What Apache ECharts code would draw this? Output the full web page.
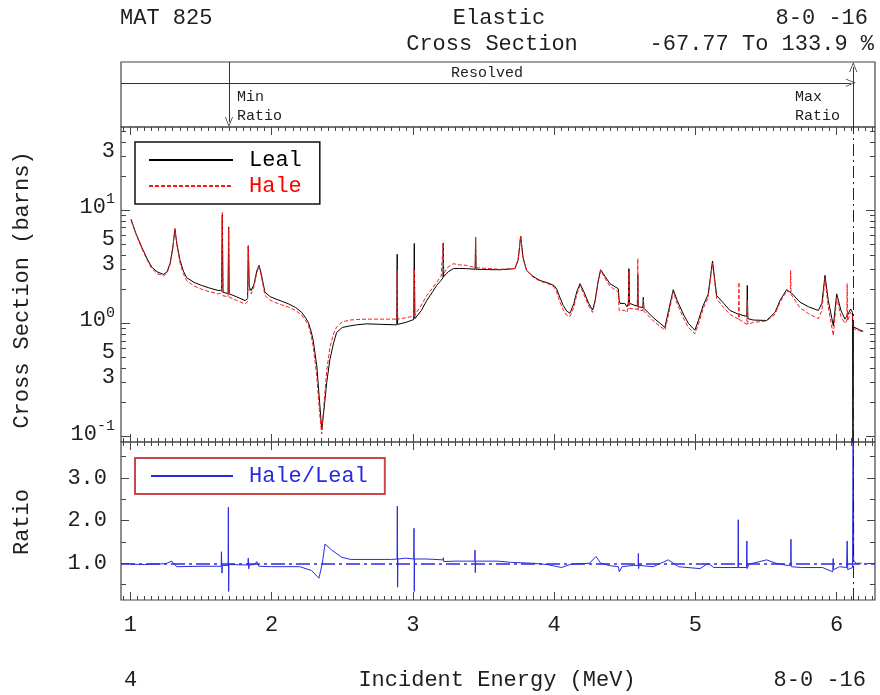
<!DOCTYPE html>
<html><head><meta charset="utf-8">
<script src="https://cdn.jsdelivr.net/npm/echarts@6/dist/echarts.min.js"></script>
<style>html,body{margin:0;padding:0;background:#fff}#c{width:880px;height:695px}</style>
</head><body><div id="c"></div>
<script>
// ---- data (energy MeV, cross section barns) ----
const lealCurve = [
[1.005,8.3],[1.04,6.2],[1.08,4.72],[1.12,3.7],[1.151,3.14],[1.19,2.85],[1.234,2.70],[1.26,2.85],[1.281,3.37],[1.30,4.6],[1.316,6.74],[1.33,5.0],[1.352,3.6],[1.375,2.9],[1.399,2.53],[1.45,2.30],[1.505,2.16],[1.56,2.05],[1.623,1.95],[1.646,1.96],[1.651,9.03],[1.656,1.88],[1.692,1.83],[1.696,7.1],[1.700,1.82],[1.75,1.72],[1.812,1.59],[1.83,1.65],[1.835,4.82],[1.842,2.1],[1.855,1.95],[1.875,2.2],[1.895,2.9],[1.911,3.25],[1.925,2.8],[1.953,1.88],[1.99,1.72],[2.024,1.65],[2.07,1.57],[2.118,1.49],[2.17,1.38],[2.213,1.25],[2.24,1.12],[2.26,1.02],[2.28,0.85],[2.295,0.70],[2.32,0.42],[2.34,0.2],[2.355,0.115],[2.37,0.17],[2.39,0.3],[2.413,0.483],[2.44,0.68],[2.46,0.83],[2.50,0.92],[2.555,0.95],[2.6,0.97],[2.673,0.99],[2.78,0.98],[2.886,0.97],[2.889,4.07],[2.892,0.98],[2.95,1.02],[3.006,1.08],[3.010,5.07],[3.014,1.10],[3.06,1.3],[3.098,1.59],[3.14,1.9],[3.168,2.16],[3.2,2.4],[3.213,2.52],[3.215,5.12],[3.218,2.58],[3.25,2.85],[3.286,3.04],[3.33,3.05],[3.378,3.04],[3.441,3.0],[3.444,5.72],[3.447,3.0],[3.53,2.98],[3.617,2.97],[3.722,3.04],[3.745,3.6],[3.763,5.89],[3.78,3.8],[3.805,2.93],[3.85,2.6],[3.90,2.39],[3.97,2.24],[4.0,2.15],[4.017,2.02],[4.04,1.7],[4.064,1.44],[4.09,1.28],[4.112,1.23],[4.14,1.5],[4.16,1.9],[4.183,2.24],[4.21,1.9],[4.245,1.5],[4.272,1.31],[4.29,1.6],[4.31,2.3],[4.329,2.97],[4.36,2.6],[4.395,2.24],[4.454,2.02],[4.46,1.6],[4.466,1.50],[4.50,1.50],[4.515,1.4],[4.525,1.5],[4.529,3.04],[4.534,1.5],[4.572,1.44],[4.589,1.42],[4.592,2.7],[4.595,1.4],[4.628,1.38],[4.631,1.70],[4.635,1.36],[4.702,1.12],[4.75,1.0],[4.784,0.92],[4.81,1.3],[4.843,1.98],[4.87,1.6],[4.914,1.21],[4.95,1.0],[4.996,0.87],[5.02,1.05],[5.055,1.44],[5.09,1.8],[5.121,3.55],[5.15,1.76],[5.20,1.5],[5.244,1.30],[5.30,1.21],[5.364,1.15],[5.367,2.16],[5.371,1.10],[5.409,1.07],[5.504,1.06],[5.563,1.25],[5.60,1.6],[5.645,1.98],[5.68,1.85],[5.74,1.54],[5.80,1.40],[5.87,1.30],[5.895,1.5],[5.917,2.65],[5.94,1.6],[5.976,0.95],[6.0,1.82],[6.03,1.3],[6.058,1.09],[6.08,1.2],[6.098,1.34],[6.112,1.25],[6.115,0.05],[6.118,0.93],[6.129,0.92],[6.16,0.88],[6.188,0.85]
];
const haleCurve = [
[1.005,8.1],[1.04,6.1],[1.08,4.6],[1.12,3.6],[1.151,3.05],[1.19,2.75],[1.234,2.62],[1.26,2.78],[1.281,3.3],[1.30,4.6],[1.316,6.9],[1.33,4.9],[1.352,3.4],[1.375,2.75],[1.399,2.38],[1.45,2.14],[1.505,2.0],[1.56,1.9],[1.623,1.82],[1.646,1.85],[1.651,9.5],[1.656,1.75],[1.692,1.72],[1.696,7.0],[1.700,1.70],[1.75,1.6],[1.812,1.48],[1.83,1.55],[1.835,4.9],[1.842,1.95],[1.855,1.82],[1.875,2.1],[1.895,2.8],[1.911,3.2],[1.925,2.7],[1.953,1.76],[1.99,1.6],[2.024,1.53],[2.07,1.46],[2.118,1.39],[2.17,1.3],[2.213,1.18],[2.24,1.06],[2.26,0.96],[2.28,0.78],[2.295,0.62],[2.32,0.34],[2.34,0.16],[2.355,0.106],[2.37,0.19],[2.39,0.38],[2.413,0.62],[2.44,0.82],[2.46,0.93],[2.50,1.03],[2.555,1.07],[2.6,1.08],[2.673,1.09],[2.78,1.09],[2.886,1.09],[2.889,2.98],[2.892,1.09],[2.95,1.12],[3.006,1.16],[3.010,2.98],[3.014,1.18],[3.06,1.45],[3.098,1.76],[3.14,2.05],[3.168,2.31],[3.2,2.6],[3.213,2.7],[3.215,5.12],[3.218,2.75],[3.25,3.15],[3.286,3.36],[3.33,3.28],[3.378,3.25],[3.441,3.1],[3.444,5.72],[3.447,3.1],[3.53,3.05],[3.617,3.0],[3.722,3.05],[3.745,3.7],[3.763,5.9],[3.78,3.7],[3.805,2.93],[3.85,2.55],[3.90,2.36],[3.97,2.2],[4.0,2.08],[4.017,1.9],[4.04,1.55],[4.064,1.32],[4.09,1.17],[4.112,1.15],[4.14,1.4],[4.16,1.8],[4.183,2.15],[4.21,1.8],[4.245,1.42],[4.272,1.25],[4.29,1.55],[4.31,2.3],[4.329,2.95],[4.36,2.5],[4.395,2.12],[4.454,1.9],[4.46,1.3],[4.466,1.25],[4.50,1.3],[4.515,1.25],[4.525,1.4],[4.529,2.9],[4.534,1.35],[4.572,1.35],[4.589,1.32],[4.592,3.73],[4.595,1.3],[4.628,1.3],[4.631,1.62],[4.635,1.28],[4.702,1.05],[4.75,0.94],[4.784,0.87],[4.81,1.2],[4.843,1.9],[4.87,1.5],[4.914,1.12],[4.95,0.92],[4.996,0.81],[5.02,0.97],[5.055,1.35],[5.09,1.7],[5.121,3.4],[5.15,1.65],[5.20,1.38],[5.244,1.2],[5.305,1.09],[5.308,2.31],[5.311,1.08],[5.364,0.98],[5.367,1.6],[5.371,0.98],[5.409,1.02],[5.504,1.05],[5.563,1.2],[5.60,1.55],[5.645,1.92],[5.671,1.9],[5.674,2.93],[5.677,1.8],[5.74,1.37],[5.80,1.22],[5.87,1.10],[5.895,1.3],[5.917,2.5],[5.94,1.4],[5.976,0.78],[6.0,1.7],[6.03,1.15],[6.058,1.0],[6.071,1.05],[6.074,2.24],[6.077,1.05],[6.098,1.25],[6.112,1.2],[6.118,0.9],[6.129,0.88],[6.16,0.86],[6.188,0.84]
];
const ratioCurve = [
[1.0,0.98],[1.1,0.97],[1.25,0.99],[1.293,1.05],[1.31,0.98],[1.33,0.92],[1.5,0.93],[1.643,0.93],[1.645,1.27],[1.649,0.77],[1.652,0.95],[1.692,0.95],[1.694,2.31],[1.696,0.34],[1.698,0.97],[1.832,0.96],[1.835,1.12],[1.838,0.87],[1.842,0.96],[1.88,0.97],[1.895,1.04],[1.91,0.93],[2.0,0.92],[2.2,0.92],[2.283,0.83],[2.335,0.65],[2.359,1.0],[2.378,1.45],[2.425,1.31],[2.496,1.14],[2.56,1.09],[2.85,1.09],[2.888,1.1],[2.890,2.34],[2.892,0.44],[2.894,1.1],[2.95,1.12],[3.006,1.1],[3.008,1.82],[3.010,0.34],[3.012,1.1],[3.1,1.1],[3.214,1.08],[3.216,1.13],[3.218,1.04],[3.3,1.05],[3.438,1.05],[3.44,1.31],[3.442,0.78],[3.444,1.05],[3.6,1.05],[3.7,1.02],[3.85,1.0],[3.95,0.97],[4.053,0.9],[4.12,0.98],[4.25,1.0],[4.296,1.16],[4.33,1.0],[4.40,0.94],[4.455,0.92],[4.461,0.80],[4.48,0.92],[4.56,0.95],[4.594,0.95],[4.596,1.23],[4.598,0.875],[4.60,0.95],[4.7,0.92],[4.808,1.08],[4.88,0.92],[5.032,0.875],[5.09,1.0],[5.13,0.9],[5.25,0.9],[5.301,0.9],[5.303,2.02],[5.305,0.9],[5.362,0.9],[5.364,1.52],[5.366,0.875],[5.38,0.98],[5.504,1.08],[5.57,1.0],[5.65,0.95],[5.674,0.95],[5.676,1.56],[5.678,0.92],[5.75,0.9],[5.9,0.9],[5.972,0.8],[5.975,1.11],[5.978,0.85],[6.02,0.92],[6.07,0.9],[6.074,1.52],[6.078,0.85],[6.112,0.9],[6.117,6.0],[6.12,1.05],[6.14,1.0],[6.176,1.0]
];
const xTickLabels = [1, 2, 3, 4, 5, 6];
const xsTickLabels = [0.1, 0.3, 0.5, 1, 3, 5, 10, 30];
const ratioTickLabels = [1, 2, 3];
const minRatioE = 1.698;
const maxRatioE = 6.117;
const resolvedEndE = 6.10;

// ---- layout / style ----
const FONT = "'Liberation Mono','DejaVu Sans Mono',monospace";
const AX = '#444';
const TXT = '#1e1e1e';
const X0 = 0.934, X1 = 6.271;
const Y0 = 0.0898, Y1 = 54;
const R0 = 0.14, R1 = 3.84;

const xMinor = [];
for (let i = 19; i <= 125; i++) { if (i % 20 !== 0) xMinor.push(+(i * 0.05).toFixed(2)); }
const logMajor = [0.1, 1, 10];
const logMinor = [];
[0.1, 1, 10].forEach(d => { for (let k = 2; k <= 9; k++) { const v = +(k * d).toFixed(3); if (v < Y1) logMinor.push(v); } });
const rMinor = [0.5, 1.5, 2.5, 3.5];

function xAx(grid, pos, ticks, len, labels) {
  return {
    type: 'value', gridIndex: grid, position: pos, min: X0, max: X1,
    axisLine: { show: false, onZero: false }, splitLine: { show: false },
    axisTick: { show: true, inside: true, length: len, customValues: ticks, lineStyle: { color: AX, width: 1 } },
    axisLabel: labels ? { show: true, customValues: xTickLabels, margin: 14, fontFamily: FONT, fontSize: 22, color: TXT, formatter: v => String(v) } : { show: false }
  };
}
function logAx(pos, ticks, len, labels) {
  return {
    type: 'log', logBase: 10, gridIndex: 1, position: pos, min: Y0, max: Y1,
    axisLine: { show: false, onZero: false }, splitLine: { show: false },
    axisTick: { show: true, inside: true, length: len, customValues: ticks, lineStyle: { color: AX, width: 1 } },
    axisLabel: labels ? {
      show: true, customValues: xsTickLabels, margin: 6, fontFamily: FONT, fontSize: 22, color: TXT,
      padding: [0, 0, 10, 0],
      formatter: v => {
        const l = Math.round(Math.log10(v));
        if (Math.abs(v / Math.pow(10, l) - 1) < 1e-6) return '{m|10}{s|' + l + '}';
        return String(Math.round(v / Math.pow(10, Math.floor(Math.log10(v) + 1e-9))));
      },
      rich: {
        m: { fontFamily: FONT, fontSize: 22, color: TXT, verticalAlign: 'bottom' },
        s: { fontFamily: FONT, fontSize: 15, color: TXT, verticalAlign: 'bottom', padding: [0, 0, 11, 0] }
      }
    } : { show: false }
  };
}
function rAx(pos, ticks, len, labels) {
  return {
    type: 'value', gridIndex: 2, position: pos, min: R0, max: R1,
    axisLine: { show: false, onZero: false }, splitLine: { show: false },
    axisTick: { show: true, inside: true, length: len, customValues: ticks, lineStyle: { color: AX, width: 1 } },
    axisLabel: labels ? { show: true, customValues: ratioTickLabels, margin: 14, padding: [0, 0, 10, 0], fontFamily: FONT, fontSize: 22, color: TXT, formatter: v => v.toFixed(1) } : { show: false }
  };
}

const ARROW = 'path://M0,10 L5,0 L10,10 L9,10 L5,2 L1,10 Z';

function txt(t, x, y, align, size, extra) {
  return Object.assign({
    type: 'text', x: x, y: y, z: 100, silent: true,
    style: { text: t, fontFamily: FONT, fontSize: size, fill: TXT, align: align, textAlign: align, verticalAlign: 'middle', textVerticalAlign: 'middle' }
  }, extra || {});
}

const chart = echarts.init(document.getElementById('c'), null, { renderer: 'canvas' });
chart.setOption({
  animation: false,
  backgroundColor: '#fff',
  grid: [
    { left: 121, right: 5, top: 62, height: 65, show: true, borderColor: AX, borderWidth: 1.2, backgroundColor: 'transparent' },
    { left: 121, right: 5, top: 127, height: 315, show: true, borderColor: AX, borderWidth: 1.2, backgroundColor: 'transparent' },
    { left: 121, right: 5, top: 442, height: 158, show: true, borderColor: AX, borderWidth: 1.2, backgroundColor: 'transparent' }
  ],
  xAxis: [
    { type: 'value', gridIndex: 0, min: X0, max: X1, show: false },
    xAx(1, 'bottom', xTickLabels, 8, false),
    xAx(1, 'bottom', xMinor, 4, false),
    xAx(1, 'top', xTickLabels, 8, false),
    xAx(1, 'top', xMinor, 4, false),
    xAx(2, 'bottom', xTickLabels, 8, true),
    xAx(2, 'bottom', xMinor, 4, false),
    xAx(2, 'top', xTickLabels, 8, false),
    xAx(2, 'top', xMinor, 4, false)
  ],
  yAxis: [
    { type: 'value', gridIndex: 0, min: 0, max: 1, show: false },
    logAx('left', logMajor, 9, true),
    logAx('left', logMinor, 5, false),
    logAx('right', logMajor, 9, false),
    logAx('right', logMinor, 5, false),
    rAx('left', ratioTickLabels, 8, true),
    rAx('left', rMinor, 5, false),
    rAx('right', ratioTickLabels, 8, false),
    rAx('right', rMinor, 5, false)
  ],
  legend: [
    {
      data: [{ name: 'Leal', textStyle: { color: '#000' } }, { name: 'Hale', textStyle: { color: '#ff0000' } }],
      orient: 'vertical', left: 135, top: 142, itemWidth: 84, itemHeight: 14, itemGap: 4,
      padding: [7, 18, 7, 13], borderColor: '#111', borderWidth: 1.5, selectedMode: false,
      itemStyle: { opacity: 0, borderWidth: 0 },
      textStyle: { fontFamily: FONT, fontSize: 22, lineHeight: 22, padding: [0, 0, 0, 11] }
    },
    {
      data: [{ name: 'Hale/Leal', textStyle: { color: '#2a2ae0' } }],
      orient: 'vertical', left: 135, top: 458, itemWidth: 82, itemHeight: 14,
      padding: [7, 17, 7, 15], borderColor: '#c84848', borderWidth: 2, selectedMode: false,
      itemStyle: { opacity: 0, borderWidth: 0 },
      textStyle: { fontFamily: FONT, fontSize: 22, lineHeight: 22, padding: [0, 0, 0, 11] }
    }
  ],
  series: [
    {
      name: 'Leal', type: 'line', xAxisIndex: 1, yAxisIndex: 1, data: lealCurve,
      showSymbol: false, symbol: 'none', z: 3,
      lineStyle: { color: '#000', width: 1 }, itemStyle: { color: '#000' },
      markLine: {
        silent: true, symbol: ['none', 'none'], label: { show: false }, animation: false,
        lineStyle: { color: '#222', width: 1, type: [12, 4, 2, 4] },
        data: [{ xAxis: maxRatioE }]
      }
    },
    {
      name: 'Hale', type: 'line', xAxisIndex: 1, yAxisIndex: 1, data: haleCurve,
      showSymbol: false, symbol: 'none', z: 4,
      lineStyle: { color: '#ff1a1a', width: 1, type: [4, 2] }, itemStyle: { color: '#ff1a1a' }
    },
    {
      name: 'Hale/Leal', type: 'line', xAxisIndex: 5, yAxisIndex: 5, data: ratioCurve,
      showSymbol: false, symbol: 'none', z: 4,
      lineStyle: { color: '#2a2ae0', width: 1 }, itemStyle: { color: '#2a2ae0' },
      markLine: {
        silent: true, symbol: ['none', 'none'], label: { show: false }, animation: false,
        data: [
          { yAxis: 1, lineStyle: { color: '#2a2ae0', width: 1.5, type: [14, 4, 3, 4] } },
          { xAxis: maxRatioE, lineStyle: { color: '#222', width: 1, type: [12, 4, 2, 4] } }
        ]
      }
    },
    {
      name: 'annot', type: 'line', xAxisIndex: 0, yAxisIndex: 0, data: [],
      markLine: {
        silent: true, symbol: ['none', ARROW], symbolSize: [8, 10], label: { show: false }, animation: false,
        lineStyle: { color: '#333', width: 1, type: 'solid' },
        data: [
          [{ coord: [X0, 0.68] }, { coord: [resolvedEndE, 0.68] }],
          [{ coord: [minRatioE, 1] }, { coord: [minRatioE, 0.077] }],
          [{ coord: [maxRatioE, 0] }, { coord: [maxRatioE, 0.923] }]
        ]
      }
    }
  ],
  graphic: [
    txt('MAT 825', 120, 18, 'left', 22),
    txt('Elastic', 499, 18, 'center', 22),
    txt('8-0 -16', 868, 18, 'right', 22),
    txt('Cross Section', 492, 44, 'center', 22),
    txt('-67.77 To 133.9 %', 874, 44, 'right', 22),
    txt('Resolved', 487, 73, 'center', 15),
    txt('Min', 237, 97, 'left', 15),
    txt('Ratio', 237, 116, 'left', 15),
    txt('Max', 795, 97, 'left', 15),
    txt('Ratio', 795, 116, 'left', 15),
    txt('Cross Section (barns)', 22, 290, 'center', 22, { rotation: Math.PI / 2 }),
    txt('Ratio', 22, 522, 'center', 22, { rotation: Math.PI / 2 }),
    txt('4', 124, 680, 'left', 22),
    txt('Incident Energy (MeV)', 497, 680, 'center', 22),
    txt('8-0 -16', 866, 680, 'right', 22)
  ]
});
</script>
</body></html>
